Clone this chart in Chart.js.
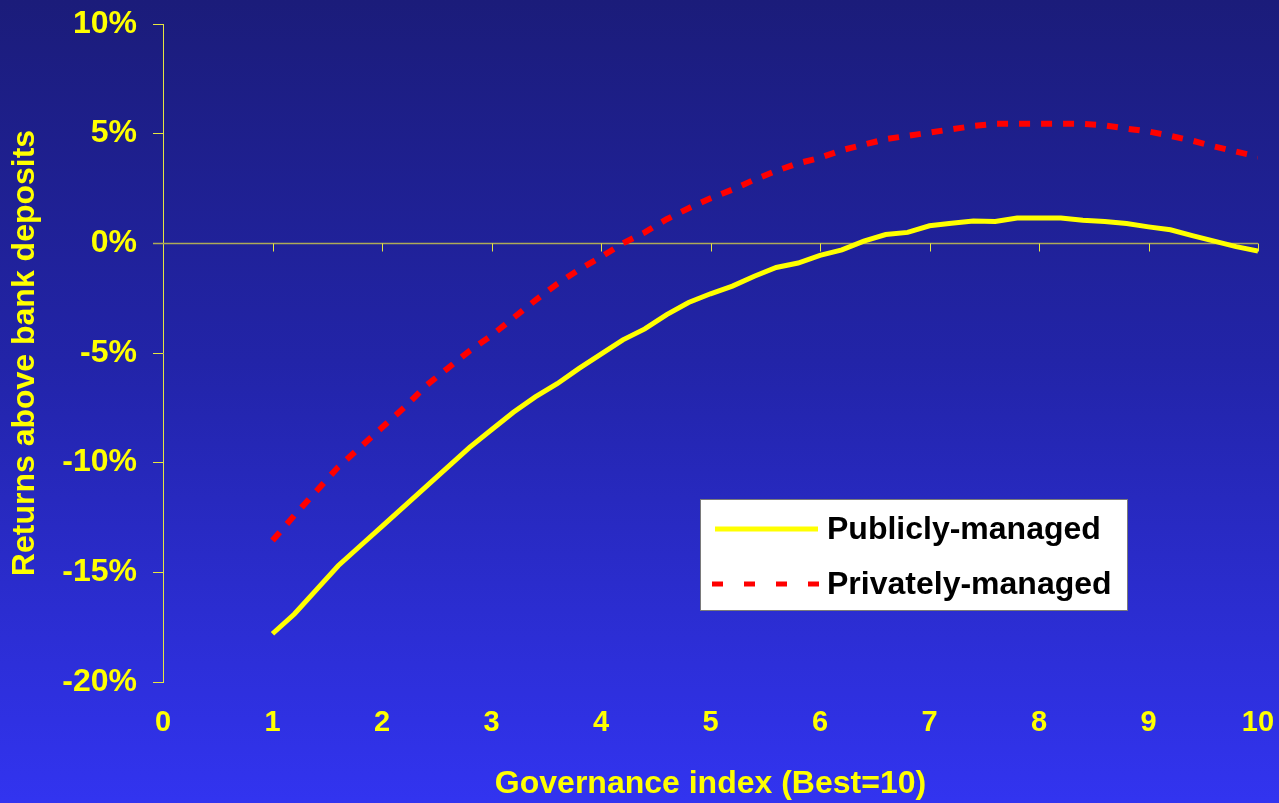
<!DOCTYPE html>
<html>
<head>
<meta charset="utf-8">
<script src="https://cdn.jsdelivr.net/npm/chart.js@4/dist/chart.umd.min.js"></script>
<style>
  html, body { margin: 0; padding: 0; }
  body {
    width: 1279px; height: 803px; overflow: hidden;
    background: linear-gradient(to bottom, #1b1c7a 0%, #2224a8 45%, #3234f0 100%);
  }
  #wrap { position: relative; width: 1279px; height: 803px; }
</style>
</head>
<body>
<div id="wrap"><canvas id="chart" width="1279" height="803"></canvas></div>
<script>
// Governance index (x) and returns above bank deposits, in percent
const governanceIndex = [1.0, 1.2, 1.4, 1.6, 1.8, 2.0, 2.2, 2.4, 2.6, 2.8,
  3.0, 3.2, 3.4, 3.6, 3.8, 4.0, 4.2, 4.4, 4.6, 4.8,
  5.0, 5.2, 5.4, 5.6, 5.8, 6.0, 6.2, 6.4, 6.6, 6.8,
  7.0, 7.2, 7.4, 7.6, 7.8, 8.0, 8.2, 8.4, 8.6, 8.8,
  9.0, 9.2, 9.4, 9.6, 9.8, 10.0];

const publiclyManaged = [-17.8, -16.9, -15.8, -14.7, -13.8, -12.9, -12.0, -11.1, -10.2, -9.3,
  -8.5, -7.7, -7.0, -6.4, -5.7, -5.05, -4.4, -3.9, -3.25, -2.7,
  -2.3, -1.95, -1.5, -1.1, -0.9, -0.55, -0.3, 0.1, 0.4, 0.5,
  0.8, 0.92, 1.02, 1.0, 1.15, 1.15, 1.16, 1.05, 1.0, 0.9,
  0.75, 0.62, 0.35, 0.1, -0.15, -0.35];

const privatelyManaged = [-13.55, -12.4, -11.3, -10.2, -9.3, -8.4, -7.5, -6.5, -5.7, -4.9,
  -4.2, -3.4, -2.6, -1.85, -1.2, -0.62, 0.0, 0.5, 1.1, 1.6,
  2.05, 2.45, 2.9, 3.3, 3.65, 3.9, 4.25, 4.5, 4.75, 4.9,
  5.05, 5.2, 5.35, 5.45, 5.45, 5.45, 5.45, 5.45, 5.38, 5.23,
  5.1, 4.9, 4.68, 4.42, 4.18, 3.95];

const seriesNames = ['Publicly-managed', 'Privately-managed'];
const xTickValues = [0, 1, 2, 3, 4, 5, 6, 7, 8, 9, 10];
const yTickValues = [-20, -15, -10, -5, 0, 5, 10];

const YELLOW = '#ffff00';
const AXIS_YELLOW = '#e6e640';
const ZERO_LINE = '#aeaa58';
const FONT = '"Liberation Sans", Arial, sans-serif';

const toPoints = (vals) => vals.map((v, i) => ({ x: governanceIndex[i], y: v }));

// Horizontal line at 0% with small downward tick marks at each integer index
const zeroAxisPlugin = {
  id: 'zeroAxis',
  beforeDatasetsDraw(chart) {
    const { ctx, scales: { x, y } } = chart;
    const y0 = Math.round(y.getPixelForValue(0)) + 0.5;
    ctx.save();
    ctx.strokeStyle = ZERO_LINE;
    ctx.lineWidth = 1.5;
    ctx.beginPath();
    ctx.moveTo(x.getPixelForValue(0) - 10, y0);
    ctx.lineTo(x.getPixelForValue(10), y0);
    ctx.stroke();
    ctx.strokeStyle = AXIS_YELLOW;
    ctx.lineWidth = 1;
    xTickValues.slice(1).forEach(v => {
      const px = Math.round(x.getPixelForValue(v)) + 0.5;
      ctx.beginPath();
      ctx.moveTo(px, y0);
      ctx.lineTo(px, y0 + 8);
      ctx.stroke();
    });
    ctx.restore();
  }
};

// Boxed legend inside the plot area
const boxLegendPlugin = {
  id: 'boxLegend',
  afterDraw(chart) {
    const { ctx } = chart;
    const left = 700, top = 499, w = 427, h = 111;
    ctx.save();
    ctx.fillStyle = '#ffffff';
    ctx.fillRect(left, top, w, h);
    ctx.strokeStyle = '#7a7a7a';
    ctx.lineWidth = 1;
    ctx.strokeRect(left + 0.5, top + 0.5, w, h);
    const rows = [top + 30, top + 85];
    chart.data.datasets.forEach((ds, i) => {
      ctx.strokeStyle = ds.borderColor;
      ctx.lineWidth = 5;
      ctx.lineCap = 'butt';
      ctx.setLineDash(i === 1 ? [11, 21] : []);
      ctx.beginPath();
      ctx.moveTo(i === 1 ? 712 : 715, rows[i]);
      ctx.lineTo(i === 1 ? 820 : 818, rows[i]);
      ctx.stroke();
      ctx.setLineDash([]);
      ctx.fillStyle = '#000000';
      ctx.font = 'bold 32px ' + FONT;
      ctx.textBaseline = 'middle';
      ctx.textAlign = 'left';
      ctx.fillText(ds.label, 827, rows[i] + 1);
    });
    ctx.restore();
  }
};

new Chart(document.getElementById('chart'), {
  type: 'line',
  data: {
    datasets: [
      {
        label: seriesNames[0],
        data: toPoints(publiclyManaged),
        borderColor: YELLOW,
        borderWidth: 5,
        pointRadius: 0,
        tension: 0,
        fill: false
      },
      {
        label: seriesNames[1],
        data: toPoints(privatelyManaged),
        borderColor: '#ff0000',
        borderWidth: 6,
        borderDash: [11, 11],
        borderCapStyle: 'butt',
        pointRadius: 0,
        tension: 0,
        fill: false
      }
    ]
  },
  options: {
    responsive: false,
    animation: false,
    layout: { padding: { top: 24, right: 21, left: 0, bottom: 0 } },
    plugins: { legend: { display: false }, tooltip: { enabled: false } },
    scales: {
      x: {
        type: 'linear',
        min: 0, max: 10,
        afterBuildTicks(scale) { scale.ticks = xTickValues.map(v => ({ value: v })); },
        afterFit(scale) {
          scale.height = 121;
          scale.paddingLeft = 0;
          scale.paddingRight = 0;
        },
        border: { display: false },
        grid: { display: false, drawTicks: false, tickLength: 0 },
        ticks: {
          color: YELLOW,
          font: { family: FONT, size: 29, weight: 'bold' },
          padding: 24,
          maxRotation: 0,
          callback: (v) => String(v)
        },
        title: {
          display: true,
          text: 'Governance index (Best=10)',
          color: YELLOW,
          font: { family: FONT, size: 32, weight: 'bold' },
          padding: { top: 0, bottom: 0 }
        }
      },
      y: {
        type: 'linear',
        min: -20, max: 10,
        afterBuildTicks(scale) { scale.ticks = yTickValues.map(v => ({ value: v })); },
        afterFit(scale) {
          scale.width = 163;
          scale.paddingTop = 0;
          scale.paddingBottom = 0;
        },
        border: { display: true, color: AXIS_YELLOW, width: 1 },
        grid: { display: true, drawOnChartArea: false, drawTicks: true, tickLength: 10, color: AXIS_YELLOW },
        ticks: {
          color: YELLOW,
          font: { family: FONT, size: 32, weight: 'bold' },
          padding: 16,
          callback: (v) => v + '%'
        },
        title: {
          display: true,
          text: 'Returns above bank deposits',
          color: YELLOW,
          font: { family: FONT, size: 32, weight: 'bold' },
          padding: { top: 6, bottom: 0 }
        }
      }
    }
  },
  plugins: [zeroAxisPlugin, boxLegendPlugin]
});
</script>
</body>
</html>
